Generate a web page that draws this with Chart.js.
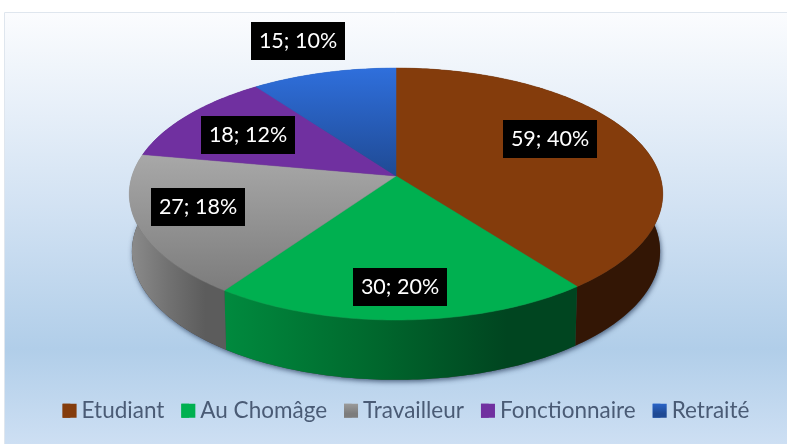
<!DOCTYPE html>
<html>
<head>
<meta charset="utf-8">
<title>Répartition</title>
<script src="https://cdn.jsdelivr.net/npm/chart.js@4"></script>
<style>
    html, body { margin: 0; padding: 0; background: #fff; }
    #wrap { width: 787px; height: 444px; }
</style>
</head>
<body>
<div id="wrap"><canvas id="myChart" width="787" height="444"></canvas></div>
<script>
const categories = ['Etudiant', 'Au Chomâge', 'Travailleur', 'Fonctionnaire', 'Retraité'];
const counts = [59, 30, 27, 18, 15];

// top face gradient per slice (top colour, bottom colour)
const faceColors = [
    ['#843c0c', '#843c0c'],
    ['#00b050', '#00b050'],
    ['#a8a8a8', '#7c7c7c'],
    ['#7030a0', '#7030a0'],
    ['#2f6fdc', '#1f4a94']
];
// wall gradient per slice, left to right
const wallColors = [
    ['#331605', '#331605', '#331605'],
    ['#008a3e', '#006a2e', '#004520'],
    ['#8c8c8c', '#727272', '#5c5c5c'],
    ['#4a2070', '#4a2070', '#4a2070'],
    ['#1f4a94', '#1f4a94', '#1f4a94']
];
// moved by hand in the original chart, so not derived from the slices
const labelCenters = [[550, 139], [400, 287], [198, 207], [248, 135], [298, 41]];

// pie plane seen in perspective
const apexX = 396, apexY = 176, radiusX = 264, radiusY = 123.4, tilt = 0.143;

function topPoint(angle) {
    let u = Math.cos(angle);
    let v = Math.sin(angle);
    let s = 1 / (1 - tilt * v);
    return [apexX + radiusX * u * s, apexY + radiusY * v * s];
}

function bottomPoint(angle) {
    let p = topPoint(angle);
    return [apexX + (p[0] - apexX) * 0.99, p[1] + 57 + (p[1] - apexY) * 0.02];
}

function traceRim(ctx, pointFn, start, end, first) {
    let steps = Math.max(2, Math.ceil(Math.abs(end - start) * 60));
    for (let i = 0; i <= steps; i++) {
        let p = pointFn(start + (end - start) * i / steps);
        if (i === 0 && first) ctx.moveTo(p[0], p[1]);
        else ctx.lineTo(p[0], p[1]);
    }
}

const pie3d = {
    id: 'pie3d',
    beforeDraw(chart) {
        let ctx = chart.ctx;
        let bg = ctx.createLinearGradient(0, 13, 0, 444);
        bg.addColorStop(0, '#fbfcfe');
        bg.addColorStop(0.45, '#d2e2f3');
        bg.addColorStop(0.78, '#b1cee9');
        bg.addColorStop(1, '#cddff3');
        ctx.save();
        ctx.fillStyle = '#fff';
        ctx.fillRect(0, 0, chart.width, chart.height);
        ctx.fillStyle = bg;
        ctx.fillRect(5, 13, chart.width - 5, chart.height - 13);
        ctx.strokeStyle = '#dfe6ee';
        ctx.lineWidth = 1;
        ctx.beginPath();
        ctx.moveTo(4.5, 444);
        ctx.lineTo(4.5, 12.5);
        ctx.lineTo(787, 12.5);
        ctx.stroke();
        ctx.restore();
    },
    beforeDatasetsDraw(chart) {
        let ctx = chart.ctx;
        let arcs = chart.getDatasetMeta(0).data;
        ctx.save();

        // soft shadow under the disc
        ctx.save();
        ctx.shadowColor = 'rgba(50, 70, 100, 0.8)';
        ctx.shadowBlur = 5;
        ctx.shadowOffsetX = 1;
        ctx.shadowOffsetY = 2;
        ctx.fillStyle = '#444';
        ctx.beginPath();
        traceRim(ctx, bottomPoint, 0, Math.PI * 2, true);
        ctx.closePath();
        ctx.fill();
        ctx.restore();

        // walls
        arcs.forEach((arc, i) => {
            let xs = [];
            for (let k = 0; k <= 40; k++) {
                xs.push(topPoint(arc.startAngle + (arc.endAngle - arc.startAngle) * k / 40)[0]);
            }
            let g = ctx.createLinearGradient(Math.min(...xs), 0, Math.max(...xs), 0);
            g.addColorStop(0, wallColors[i][0]);
            g.addColorStop(0.4, wallColors[i][1]);
            g.addColorStop(0.8, wallColors[i][2]);
            ctx.fillStyle = g;
            ctx.beginPath();
            traceRim(ctx, topPoint, arc.startAngle, arc.endAngle, true);
            traceRim(ctx, bottomPoint, arc.endAngle, arc.startAngle, false);
            ctx.closePath();
            ctx.fill();
        });

        // top faces
        arcs.forEach((arc, i) => {
            let ys = [apexY];
            for (let k = 0; k <= 40; k++) {
                ys.push(topPoint(arc.startAngle + (arc.endAngle - arc.startAngle) * k / 40)[1]);
            }
            let g = ctx.createLinearGradient(0, Math.min(...ys), 0, Math.max(...ys));
            g.addColorStop(0, faceColors[i][0]);
            g.addColorStop(1, faceColors[i][1]);
            ctx.fillStyle = g;
            ctx.strokeStyle = g;
            ctx.lineWidth = 0.5;
            ctx.beginPath();
            ctx.moveTo(apexX, apexY);
            traceRim(ctx, topPoint, arc.startAngle, arc.endAngle, false);
            ctx.closePath();
            ctx.fill();
            ctx.stroke();
        });

        // data labels
        let total = counts.reduce((a, b) => a + b, 0);
        ctx.font = '21.5px Lato';
        ctx.textAlign = 'center';
        ctx.textBaseline = 'middle';
        counts.forEach((value, i) => {
            let c = labelCenters[i];
            ctx.fillStyle = '#000';
            ctx.fillRect(c[0] - 47, c[1] - 19, 94, 38);
            ctx.fillStyle = '#fff';
            ctx.fillText(value + '; ' + Math.round(value / total * 100) + '%', c[0], c[1]);
        });
        ctx.restore();
        return false;
    },
    afterDraw(chart) {
        // legend keys are a bit wider than the gap the library leaves
        let ctx = chart.ctx;
        chart.legend.legendHitBoxes.forEach((box, i) => {
            let g = ctx.createLinearGradient(0, box.top, 0, box.top + 14);
            g.addColorStop(0, faceColors[i][0]);
            g.addColorStop(1, faceColors[i][1]);
            ctx.fillStyle = g;
            ctx.fillRect(box.left, box.top + (box.height - 14) / 2, 14, 14);
        });
    }
};

const ctx = document.getElementById('myChart');
const myChart = new Chart(ctx, {
    type: 'pie',
    data: {
        labels: categories,
        datasets: [{
            data: counts,
            backgroundColor: faceColors.map(c => c[0]),
            borderWidth: 0
        }]
    },
    options: {
        responsive: false,
        animation: false,
        layout: { padding: { bottom: 12, left: 25 } },
        plugins: {
            tooltip: { enabled: false },
            legend: {
                position: 'bottom',
                labels: {
                    boxWidth: 7.75,
                    boxHeight: 14,
                    padding: 17,
                    color: '#4a5b75',
                    font: { family: 'Lato', size: 22.5 }
                }
            }
        }
    },
    plugins: [pie3d]
});
</script>
</body>
</html>
